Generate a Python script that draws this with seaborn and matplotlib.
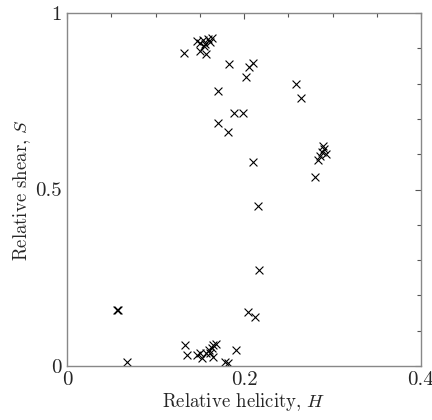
import matplotlib
matplotlib.use("Agg")
import matplotlib.pyplot as plt
import seaborn as sns
import pandas as pd
from matplotlib.ticker import MultipleLocator

sns.set_style("white")
plt.rcParams['font.family'] = ['cmr10', 'DejaVu Serif']
plt.rcParams['mathtext.fontset'] = 'cm'
plt.rcParams['axes.formatter.use_mathtext'] = True

# Relative helicity H and relative shear S
H = [0.132, 0.147, 0.150, 0.154, 0.156, 0.159, 0.162, 0.164, 0.150, 0.157, 0.155,
     0.183, 0.2105, 0.206, 0.202, 0.171, 0.259, 0.264, 0.189, 0.1985, 0.171, 0.182,
     0.2105, 0.216, 0.280, 0.2836, 0.286, 0.288, 0.290, 0.289, 0.293,
     0.217, 0.205, 0.212, 0.057, 0.0575,
     0.0674, 0.133, 0.136, 0.1465, 0.150, 0.152, 0.157, 0.160, 0.1635, 0.165, 0.168,
     0.1646, 0.1616, 0.1785, 0.182, 0.191]
S = [0.887, 0.921, 0.915, 0.924, 0.912, 0.926, 0.918, 0.929, 0.892, 0.884, 0.906,
     0.855, 0.857, 0.846, 0.818, 0.779, 0.799, 0.758, 0.716, 0.716, 0.689, 0.664,
     0.579, 0.453, 0.536, 0.584, 0.595, 0.606, 0.615, 0.623, 0.600,
     0.272, 0.154, 0.140, 0.159, 0.160,
     0.011, 0.059, 0.031, 0.031, 0.038, 0.022, 0.036, 0.045, 0.050, 0.059, 0.062,
     0.026, 0.036, 0.012, 0.0075, 0.045]

df = pd.DataFrame({"H": H, "S": S})

fig = plt.figure(figsize=(4.32, 4.2), dpi=100)
ax = fig.add_axes([67/432, 54/420, 354/432, 353/420])
sns.scatterplot(data=df, x="H", y="S", marker="x", color="black", s=32,
                linewidth=0.8, ax=ax, legend=False)

ax.set_xlim(0, 0.4)
ax.set_ylim(0, 1)
ax.set_xticks([0, 0.2, 0.4])
ax.set_xticklabels(["0", "0.2", "0.4"])
ax.set_yticks([0, 0.5, 1])
ax.set_yticklabels(["0", "0.5", "1"])
ax.xaxis.set_minor_locator(MultipleLocator(0.05))
ax.yaxis.set_minor_locator(MultipleLocator(0.1))
ax.tick_params(which="both", direction="in", top=True, right=True,
               color="#555555", width=0.8, labelsize=15, labelcolor="#262626")
ax.tick_params(which="major", length=4, pad=4)
ax.tick_params(which="minor", length=3)
for sp in ax.spines.values():
    sp.set_color("#888888")
    sp.set_linewidth(1.0)
ax.set_xlabel("Relative helicity, $H$", fontsize=13.5, color="#262626", labelpad=1)
ax.set_ylabel("Relative shear, $S$", fontsize=13.5, color="#262626", labelpad=1)

fig.savefig("out.png", dpi=100)
